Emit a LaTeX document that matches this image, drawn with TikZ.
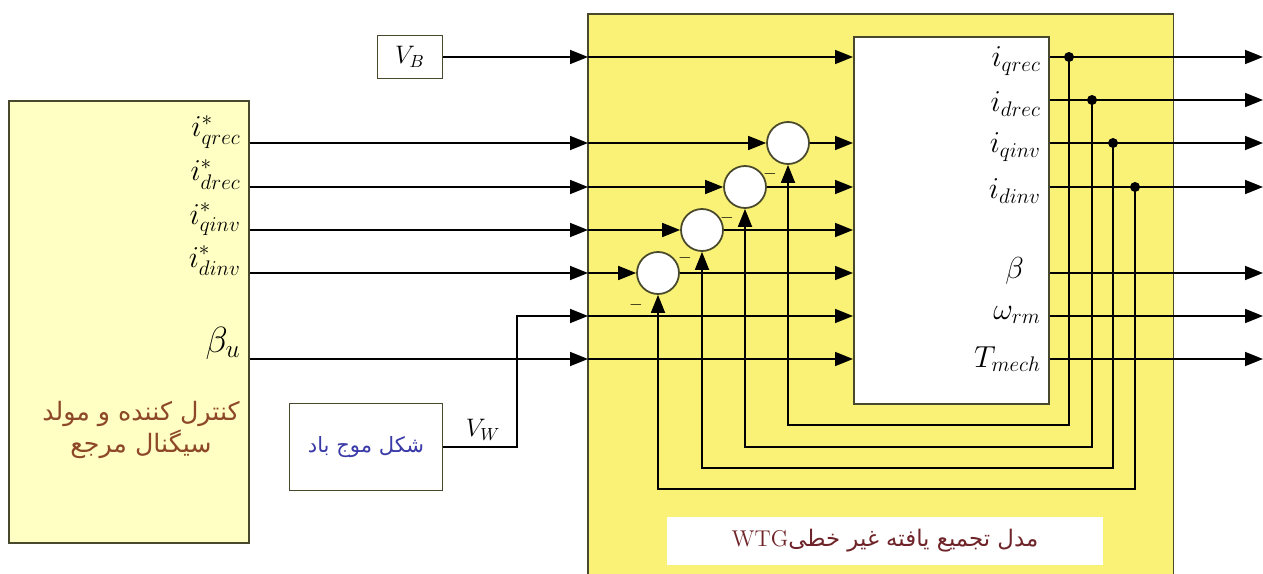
\documentclass[tikz,border=0pt]{standalone}
\usepackage{fontspec}
\usepackage{amsmath}
\usetikzlibrary{arrows.meta}
\newfontfamily\farsifont[Script=Arabic]{DejaVu Sans}
\TeXXeTstate=1
\definecolor{wtgyellow}{RGB}{250,242,118}
\definecolor{ctrlyellow}{RGB}{255,255,196}
\definecolor{edgegray}{RGB}{72,72,44}
\definecolor{ctrlbrown}{RGB}{140,72,40}
\definecolor{windblue}{RGB}{58,58,168}
\definecolor{titlered}{RGB}{110,36,40}

\begin{document}
\begin{tikzpicture}[x=0.02cm,y=-0.02cm,
	sig/.style={line width=1pt,-{Triangle[length=0.36cm,width=0.28cm]}},
	blockline/.style={draw=edgegray,line width=1pt},
	sum/.style={draw=edgegray,circle,fill=white,line width=1pt,minimum size=0.84cm,inner sep=0pt},
	pin/.style={circle,fill=black,inner sep=0pt,minimum size=0.2cm},
	reflabel/.style={anchor=base east,inner sep=0pt,font=\LARGE}]

	\useasboundingbox (0,0) rectangle (1263,574);

	% blocks
	\node [name=ctrl, blockline, fill=ctrlyellow, anchor=north west, inner sep=0pt, minimum width=4.8cm, minimum height=8.84cm] at (8,100) {};
	\node [name=wtg, fill=wtgyellow, anchor=north west, inner sep=0pt, minimum width=11.7cm, minimum height=11.2cm] at (588,14) {};
	\draw [blockline] (wtg.south west) -- (wtg.north west) -- (wtg.north east) -- (wtg.south east);
	\node [name=model, blockline, fill=white, anchor=north west, inner sep=0pt, minimum width=3.9cm, minimum height=7.34cm] at (853,36) {};

	\node [name=vb, blockline, fill=white, minimum width=1.3cm, minimum height=0.86cm] at (410,57) {\Large $V_B$};
	\node [name=wind, blockline, fill=white, minimum width=3.06cm, minimum height=1.74cm, text=windblue, font=\large\farsifont] at (366,447) {\beginR شکل موج باد\endR};

	\node [name=ctrltext, text=ctrlbrown, align=center, font=\Large\farsifont] at (141,430) {\beginR کنترل کننده و مولد\endR\\\beginR سیگنال مرجع\endR};
	\node [name=title, fill=white, minimum width=8.72cm, minimum height=0.96cm, text=titlered, font=\fontsize{13}{16}\selectfont\farsifont] at (885,541) {\beginR مدل تجمیع یافته غیر خطی\beginL{\rmfamily WTG}\endL\endR};

	% summing points
	\node [name=sum1, sum] at (788,143) {};
	\node [name=sum2, sum] at (745,187) {};
	\node [name=sum3, sum] at (702,230) {};
	\node [name=sum4, sum] at (658,273) {};

	\node [name=minus1] at (770,174) {$-$};
	\node [name=minus2] at (727,218) {$-$};
	\node [name=minus3] at (685,258) {$-$};
	\node [name=minus4] at (636,305) {$-$};

	% ports
	\foreach \n/\y in {vb/57, qrec/143, drec/187, qinv/230, dinv/273, vw/316, beta/359} {
		\coordinate (in-\n) at (588,\y);
		\coordinate (m-\n) at (853,\y);
	}
	\coordinate (vwbend) at (517,316);

	% input labels
	\node [name=lqrec, reflabel] at (241,137) {$i^{*}_{qrec}$};
	\node [name=ldrec, reflabel] at (241,181) {$i^{*}_{drec}$};
	\node [name=lqinv, reflabel] at (241,224) {$i^{*}_{qinv}$};
	\node [name=ldinv, reflabel] at (241,267) {$i^{*}_{dinv}$};
	\node [name=lbeta, reflabel, font=\huge] at (241,352) {$\beta_{u}$};
	\node [name=lvw] at (483,430) {\Large $V_W$};

	% inputs
	\foreach \n/\s in {qrec/sum1, drec/sum2, qinv/sum3, dinv/sum4} {
		\draw [sig] (ctrl.east |- in-\n) -- (in-\n);
		\draw [sig] (in-\n) -- (\s);
		\draw [sig] (\s) -- (m-\n);
	}
	\draw [sig] (ctrl.east |- in-beta) -- (in-beta);
	\draw [sig] (in-beta) -- (m-beta);
	\draw [sig] (vb) -- (in-vb);
	\draw [sig] (in-vb) -- (m-vb);
	\draw [sig] (wind.east) -| (vwbend) -- (in-vw);
	\draw [sig] (in-vw) -- (m-vw);

	% outputs
	\node [name=oqrec, anchor=east] at (1047,61) {\LARGE $i_{qrec}$};
	\node [name=odrec, anchor=east] at (1047,104) {\LARGE $i_{drec}$};
	\node [name=oqinv, anchor=east] at (1047,147) {\LARGE $i_{qinv}$};
	\node [name=odinv, anchor=east] at (1047,191) {\LARGE $i_{dinv}$};
	\node [name=obeta, anchor=east] at (1030,271) {\LARGE $\beta$};
	\node [name=owrm, anchor=east] at (1047,315) {\LARGE $\omega_{rm}$};
	\node [name=otm, anchor=east] at (1047,359) {\LARGE $T_{mech}$};

	\foreach \n/\y in {qrec/57, drec/100, qinv/143, dinv/187, beta/273, wrm/316, tm/359} {
		\coordinate (o-\n) at (1263,\y);
		\draw [sig] (model.east |- o-\n) -- (o-\n);
	}

	% feedback
	\node [name=pin1, pin] at (1069,57) {};
	\node [name=pin2, pin] at (1092,100) {};
	\node [name=pin3, pin] at (1113,143) {};
	\node [name=pin4, pin] at (1135,187) {};
	\coordinate (fb1) at (788,425);
	\coordinate (fb2) at (745,447);
	\coordinate (fb3) at (702,468);
	\coordinate (fb4) at (658,489);

	\draw [sig] (pin1.center) |- (fb1) -- (sum1);
	\draw [sig] (pin2.center) |- (fb2) -- (sum2);
	\draw [sig] (pin3.center) |- (fb3) -- (sum3);
	\draw [sig] (pin4.center) |- (fb4) -- (sum4);

\end{tikzpicture}
\end{document}
